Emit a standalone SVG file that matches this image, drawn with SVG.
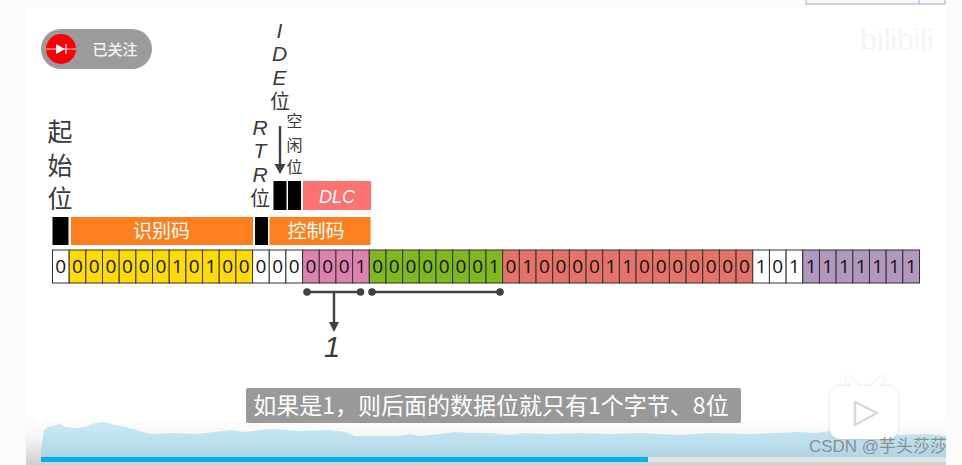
<svg xmlns="http://www.w3.org/2000/svg" width="962" height="465" viewBox="0 0 962 465">
<style>
text{font-family:"Liberation Sans","Noto Sans CJK SC",sans-serif;fill:#3a3a3a;text-anchor:middle}
.cn{font-family:"Noto Sans CJK SC",sans-serif}
.i{font-style:italic}
.w{fill:#fff}.y{fill:#ffdc00}.p{fill:#dc82ae}.g{fill:#80b81e}.r{fill:#e5736a}.u{fill:#b297bf}
.c rect{stroke:#333;stroke-width:1}
.c text{font-family:"Open Sans","DejaVu Sans",sans-serif;font-size:19px;fill:#111}
.k{fill:#000}.o{fill:#fd8020}
.l{stroke:#404040;stroke-width:2.4;fill:none}
.d{fill:#404040}
</style>
<defs>
<linearGradient id="bg" x1="0" y1="0" x2="0" y2="1"><stop offset="0" stop-color="#fff"/><stop offset=".45" stop-color="#f6f6f6"/><stop offset="1" stop-color="#cfcfcf"/></linearGradient>
<linearGradient id="wave" x1="0" y1="0" x2="0" y2="1"><stop offset="0" stop-color="#cbeaf7"/><stop offset="1" stop-color="#b0d4e4"/></linearGradient>
<filter id="soft" x="-20%" y="-20%" width="140%" height="140%"><feDropShadow dx="0" dy="0" stdDeviation="1.500" flood-color="#000" flood-opacity=".16"/></filter>
</defs>
<rect width="962" height="465" fill="#fbfbfb"/>
<rect x="26" y="7" width="920" height="458" fill="#fff"/>
<rect x="26" y="415" width="920" height="50" fill="url(#bg)"/>
<path d="M806 0V4H945V0" fill="#f6f6fa" stroke="#a9a9bd" stroke-width="1"/>
<line x1="919" y1="0" x2="919" y2="4" stroke="#a9a9bd"/>
<text x="897" y="50" font-size="30" style="fill:#f5f5f5">bilibili</text>

<g id="follow-badge">
<rect x="41" y="29" width="111" height="40" rx="20" fill="#9b9b9b"/>
<circle cx="61" cy="49" r="15" fill="#fb0007"/>
<path d="M46 49H76" stroke="#ffc8c8" stroke-width="1"/>
<path d="M56 44V54L65 49Z" fill="#fff"/>
<path d="M66 44V54" stroke="#fff" stroke-width="1.2"/>
<text x="115" y="54.500" font-size="15" class="cn" style="fill:#f4f4f4;font-weight:500">已关注</text>
</g>

<g id="start-bit">
<text x="60" y="140.500" font-size="25" class="cn">起</text>
<text x="60" y="174.500" font-size="25" class="cn">始</text>
<text x="60" y="207.500" font-size="25" class="cn">位</text>
<rect x="52.500" y="217" width="16" height="28" class="k"/>
</g>
<g id="identifier">
<rect x="71" y="217" width="182" height="28" class="o"/>
<text x="161.500" y="238" font-size="19" class="cn" style="fill:#fff">识别码</text>
</g>
<g id="rtr-bit">
<text x="260" y="135" font-size="21" class="i">R</text>
<text x="260" y="158" font-size="21" class="i">T</text>
<text x="260" y="182" font-size="21" class="i">R</text>
<text x="260" y="206" font-size="20" class="cn">位</text>
<rect x="255" y="217" width="13" height="28" class="k"/>
</g>
<g id="control-code">
<rect x="269.500" y="217" width="101" height="28" class="o"/>
<text x="316" y="238" font-size="19" class="cn" style="fill:#fff">控制码</text>
</g>
<g id="ide-bit">
<text x="279.500" y="38" font-size="21" class="i">I</text>
<text x="279.500" y="61" font-size="21" class="i">D</text>
<text x="279.500" y="85" font-size="21" class="i">E</text>
<text x="280" y="109" font-size="20" class="cn">位</text>
<rect x="273.500" y="181" width="13" height="29" class="k"/>
</g>
<g id="reserved-bit">
<text x="294.500" y="127" font-size="16" class="cn">空</text>
<text x="294.500" y="151" font-size="16" class="cn">闲</text>
<text x="294.500" y="173" font-size="16" class="cn">位</text>
<rect x="288" y="181" width="13" height="29" class="k"/>
</g>
<g id="dlc">
<rect x="303" y="181" width="68" height="29" fill="#fe7271"/>
<text x="337" y="203" font-size="18" class="i" style="fill:#fff">DLC</text>
</g>

<g id="bits" class="c">
<rect x="52.500" y="250" width="16.670" height="33" class="w"/><rect x="69.170" y="250" width="16.670" height="33" class="y"/><rect x="85.850" y="250" width="16.670" height="33" class="y"/><rect x="102.520" y="250" width="16.670" height="33" class="y"/><rect x="119.190" y="250" width="16.670" height="33" class="y"/><rect x="135.870" y="250" width="16.670" height="33" class="y"/><rect x="152.540" y="250" width="16.670" height="33" class="y"/><rect x="169.210" y="250" width="16.670" height="33" class="y"/><rect x="185.880" y="250" width="16.670" height="33" class="y"/><rect x="202.560" y="250" width="16.670" height="33" class="y"/><rect x="219.230" y="250" width="16.670" height="33" class="y"/><rect x="235.900" y="250" width="16.670" height="33" class="y"/>
<rect x="252.580" y="250" width="16.670" height="33" class="w"/><rect x="269.250" y="250" width="16.670" height="33" class="w"/><rect x="285.920" y="250" width="16.670" height="33" class="w"/>
<rect x="302.600" y="250" width="16.670" height="33" class="p"/><rect x="319.270" y="250" width="16.670" height="33" class="p"/><rect x="335.940" y="250" width="16.670" height="33" class="p"/><rect x="352.620" y="250" width="16.670" height="33" class="p"/>
<rect x="369.290" y="250" width="16.670" height="33" class="g"/><rect x="385.960" y="250" width="16.670" height="33" class="g"/><rect x="402.630" y="250" width="16.670" height="33" class="g"/><rect x="419.310" y="250" width="16.670" height="33" class="g"/><rect x="435.980" y="250" width="16.670" height="33" class="g"/><rect x="452.650" y="250" width="16.670" height="33" class="g"/><rect x="469.330" y="250" width="16.670" height="33" class="g"/><rect x="486" y="250" width="16.670" height="33" class="g"/>
<rect x="502.670" y="250" width="16.670" height="33" class="r"/><rect x="519.350" y="250" width="16.670" height="33" class="r"/><rect x="536.020" y="250" width="16.670" height="33" class="r"/><rect x="552.690" y="250" width="16.670" height="33" class="r"/><rect x="569.370" y="250" width="16.670" height="33" class="r"/><rect x="586.040" y="250" width="16.670" height="33" class="r"/><rect x="602.710" y="250" width="16.670" height="33" class="r"/><rect x="619.380" y="250" width="16.670" height="33" class="r"/><rect x="636.060" y="250" width="16.670" height="33" class="r"/><rect x="652.730" y="250" width="16.670" height="33" class="r"/><rect x="669.400" y="250" width="16.670" height="33" class="r"/><rect x="686.080" y="250" width="16.670" height="33" class="r"/><rect x="702.750" y="250" width="16.670" height="33" class="r"/><rect x="719.420" y="250" width="16.670" height="33" class="r"/><rect x="736.100" y="250" width="16.670" height="33" class="r"/>
<rect x="752.770" y="250" width="16.670" height="33" class="w"/><rect x="769.440" y="250" width="16.670" height="33" class="w"/><rect x="786.120" y="250" width="16.670" height="33" class="w"/>
<rect x="802.790" y="250" width="16.670" height="33" class="u"/><rect x="819.460" y="250" width="16.670" height="33" class="u"/><rect x="836.130" y="250" width="16.670" height="33" class="u"/><rect x="852.810" y="250" width="16.670" height="33" class="u"/><rect x="869.480" y="250" width="16.670" height="33" class="u"/><rect x="886.150" y="250" width="16.670" height="33" class="u"/><rect x="902.830" y="250" width="16.670" height="33" class="u"/>
<text x="60.800" y="273">0</text><text x="77.500" y="273">0</text><text x="94.200" y="273">0</text><text x="110.900" y="273">0</text><text x="127.500" y="273">0</text><text x="144.200" y="273">0</text><text x="160.900" y="273">0</text><text x="177.500" y="273">1</text><text x="194.200" y="273">0</text><text x="210.900" y="273">1</text><text x="227.600" y="273">0</text><text x="244.200" y="273">0</text>
<text x="260.900" y="273">0</text><text x="277.600" y="273">0</text><text x="294.300" y="273">0</text>
<text x="310.900" y="273">0</text><text x="327.600" y="273">0</text><text x="344.300" y="273">0</text><text x="360.900" y="273">1</text>
<text x="377.600" y="273">0</text><text x="394.300" y="273">0</text><text x="411" y="273">0</text><text x="427.600" y="273">0</text><text x="444.300" y="273">0</text><text x="461" y="273">0</text><text x="477.700" y="273">0</text><text x="494.300" y="273">1</text>
<text x="511" y="273">0</text><text x="527.700" y="273">1</text><text x="544.400" y="273">0</text><text x="561" y="273">0</text><text x="577.700" y="273">0</text><text x="594.400" y="273">0</text><text x="611" y="273">1</text><text x="627.700" y="273">1</text><text x="644.400" y="273">0</text><text x="661.100" y="273">0</text><text x="677.700" y="273">0</text><text x="694.400" y="273">0</text><text x="711.100" y="273">0</text><text x="727.800" y="273">0</text><text x="744.400" y="273">0</text>
<text x="761.100" y="273">1</text><text x="777.800" y="273">0</text><text x="794.500" y="273">1</text>
<text x="811.100" y="273">1</text><text x="827.800" y="273">1</text><text x="844.500" y="273">1</text><text x="861.100" y="273">1</text><text x="877.800" y="273">1</text><text x="894.500" y="273">1</text><text x="911.200" y="273">1</text>
</g>

<g id="connectors">
<path class="l" d="M280 126V170"/>
<path class="d" d="M274.500 164H285.500L280 174Z"/>
<path class="l" d="M307 292H360"/>
<circle class="d" cx="307" cy="292" r="3.800"/>
<circle class="d" cx="360.500" cy="292" r="3.800"/>
<path class="l" d="M334 292V324"/>
<path class="d" d="M329 322H339L334 332Z"/>
<path class="l" d="M372 292H500"/>
<circle class="d" cx="372" cy="292" r="3.800"/>
<circle class="d" cx="500" cy="292" r="3.800"/>
</g>
<g id="result"><text x="332" y="357" font-size="29" class="i">1</text></g>

<g id="player">
<path d="M41 452V450L44 430L48 427L55 425L60 424L65 427L75 428L85 427L95 423L104 422L115 425L125 427L140 431L150 434L175 433L195 434L215 432L230 430L245 432L260 430L275 429L300 431L330 430L345 432L355 436L385 436L400 436L410 434L420 436L440 434L455 432L470 433L490 433L510 435L525 433L550 434L580 433L610 434L640 433L680 435L710 433L750 434L800 432L815 433L830 431L842 427L855 431L870 433L890 435L930 434L946 436V458H41Z" fill="url(#wave)"/>
<rect x="41" y="457" width="905" height="5" fill="#e4e4e4"/>
<rect x="41" y="457" width="607" height="5" fill="#00aeec"/>
<g filter="url(#soft)">
<path d="M848 379L856 387M882 379L874 387" stroke="#fff" stroke-width="5" stroke-linecap="round"/>
<rect x="830" y="386" width="68" height="53" rx="10" fill="#fff"/>
</g>
<path d="M855 402L877 413L855 425Z" fill="#fff" stroke="#d8d8d8" stroke-width="2.500" stroke-linejoin="round"/>
<text x="878" y="452" font-size="17" style="fill:#8e8e8e">CSDN @芋头莎莎</text>
</g>

<g id="subtitle">
<rect x="246" y="388" width="495" height="35" rx="2" fill="#999"/>
<text x="491" y="414" font-size="23" class="cn" style="fill:#fff">如果是1，则后面的数据位就只有1个字节、8位</text>
</g>
</svg>
